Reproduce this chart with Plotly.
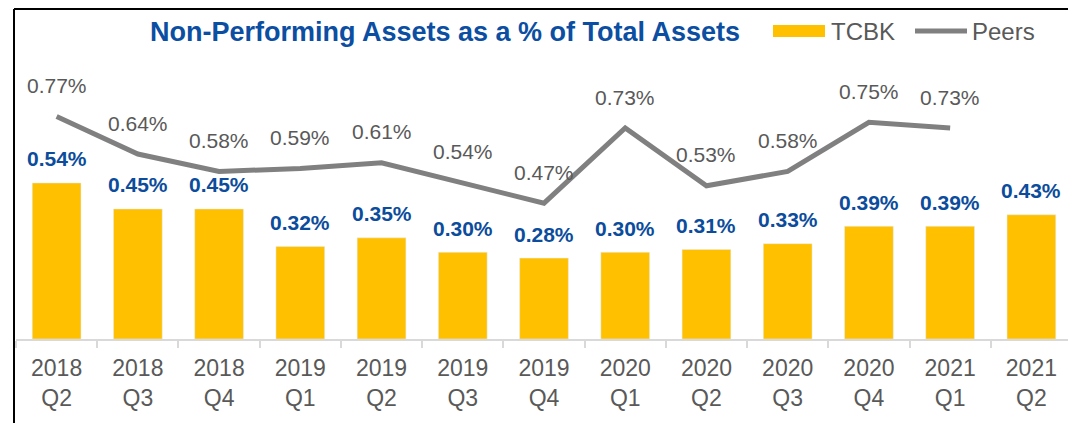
import plotly.graph_objects as go

categories = ["2018<br>Q2", "2018<br>Q3", "2018<br>Q4", "2019<br>Q1", "2019<br>Q2", "2019<br>Q3",
              "2019<br>Q4", "2020<br>Q1", "2020<br>Q2", "2020<br>Q3", "2020<br>Q4", "2021<br>Q1", "2021<br>Q2"]
tcbk = [0.54, 0.45, 0.45, 0.32, 0.35, 0.30, 0.28, 0.30, 0.31, 0.33, 0.39, 0.39, 0.43]
peers = [0.77, 0.64, 0.58, 0.59, 0.61, 0.54, 0.47, 0.73, 0.53, 0.58, 0.75, 0.73]

OFF = 8  # page body margin
W, H = 1076 - OFF, 423 - OFF
ML, MR, MT, MB = 16 - OFF, 4, 40 - OFF, 84
PW, PH = W - ML - MR, H - MT - MB
FONT = "Liberation Sans, Arial, sans-serif"
YELLOW = "#FFC000"
GRAY = "#808080"
TXT = "#595959"
BLUE = "#0B4C9C"


def px(x):  # page pixel -> paper
    return (x - OFF - ML) / PW


def py(y):
    return (H - MB - (y - OFF)) / PH


fig = go.Figure()
fig.add_trace(go.Bar(x=categories, y=tcbk, name="TCBK", marker_color=YELLOW,
                     width=0.6, showlegend=False))
fig.add_trace(go.Scatter(x=categories[:len(peers)], y=peers, name="Peers", mode="lines",
                         line=dict(color=GRAY, width=5), showlegend=False))

ann = []
for c, v in zip(categories, tcbk):
    ann.append(dict(x=c, y=v, text=f"<b>{v:.2f}%</b>", showarrow=False, yshift=24,
                    font=dict(family=FONT, size=21, color=BLUE)))
for c, v in zip(categories, peers):
    ann.append(dict(x=c, y=v, text=f"{v:.2f}%", showarrow=False, yshift=31,
                    font=dict(family=FONT, size=21, color=TXT)))

# custom legend
ann.append(dict(xref="paper", yref="paper", x=px(829), y=py(31), xanchor="left", yanchor="middle",
                text="TCBK", showarrow=False, font=dict(family=FONT, size=24, color=TXT)))
ann.append(dict(xref="paper", yref="paper", x=px(970), y=py(31), xanchor="left", yanchor="middle",
                text="Peers", showarrow=False, font=dict(family=FONT, size=24, color=TXT)))

shapes = [
    dict(type="rect", xref="paper", yref="paper", x0=px(773), x1=px(825), y0=py(37), y1=py(25),
         fillcolor=YELLOW, line=dict(width=0)),
    dict(type="line", xref="paper", yref="paper", x0=px(915), x1=px(967), y0=py(31), y1=py(31),
         line=dict(color=GRAY, width=5)),
    # slide border
    dict(type="line", xref="paper", yref="paper", x0=px(14), x1=px(1090), y0=py(9), y1=py(9),
         line=dict(color="#000000", width=2)),
    dict(type="line", xref="paper", yref="paper", x0=px(14), x1=px(14), y0=py(9), y1=py(440),
         line=dict(color="#000000", width=2)),
]

fig.update_layout(
    width=W, height=H,
    margin=dict(l=ML, r=MR, t=MT, b=MB),
    paper_bgcolor="white", plot_bgcolor="white",
    title=dict(text="<b>Non-Performing Assets as a % of Total Assets</b>", x=(445 - OFF) / W,
               xanchor="center", y=1 - (32 - OFF) / H, yanchor="middle", yref="container",
               font=dict(family=FONT, size=27, color="#0B4EA2")),
    showlegend=False,
    annotations=ann,
    shapes=shapes,
    bargap=0.4,
)
fig.update_xaxes(showline=True, linecolor="#D9D9D9", linewidth=2, ticks="outside", ticklen=7,
                 tickcolor="#D9D9D9", tickwidth=2, tickson="boundaries", showgrid=False,
                 ticklabelstandoff=7,
                 tickfont=dict(family=FONT, size=23, color=TXT))
fig.update_yaxes(visible=False, range=[0, PH / 289], showgrid=False, zeroline=False)

fig.write_html("out.html")
